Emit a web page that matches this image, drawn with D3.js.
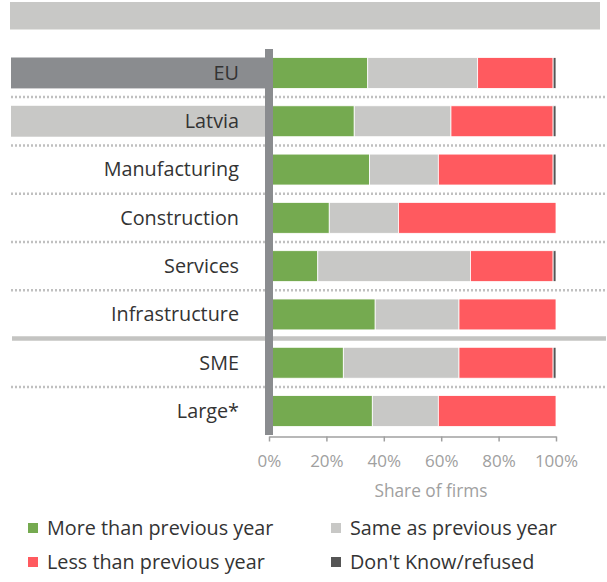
<!DOCTYPE html>
<html>
<head>
<meta charset="utf-8">
<script src="https://cdn.jsdelivr.net/npm/d3@7"></script>
<style>
  html, body { margin: 0; padding: 0; background: #fff; }
  svg { display: block; font-family: "Open Sans", "Noto Sans", sans-serif; }
</style>
</head>
<body>
<svg id="chart" width="607" height="582"></svg>
<script>
const categories = ["EU", "Latvia", "Manufacturing", "Construction", "Services", "Infrastructure", "SME", "Large*"];
const more = [34.4, 29.7, 35.0, 21.0, 17.0, 37.0, 25.9, 36.0];
const same = [38.3, 33.7, 24.0, 24.1, 53.2, 29.2, 40.3, 23.0];
const less = [26.3, 35.6, 40.0, 54.9, 28.8, 33.8, 32.8, 41.0];
const dontKnow = [1.0, 1.0, 1.0, 0.0, 1.0, 0.0, 1.0, 0.0];
const seriesNames = ["More than previous year", "Same as previous year", "Less than previous year", "Don't Know/refused"];
const seriesColors = ["#75aa50", "#c8c8c6", "#ff5a5f", "#555555"];
const xTicks = [0, 20, 40, 60, 80, 100];
const highlight = { "EU": "#8a8c8f", "Latvia": "#c8c8c6" };
const solidBreakAfter = "Infrastructure";

const svg = d3.select("#chart");

const rows = categories.map((c, i) => ({ cat: c, vals: [more[i], same[i], less[i], dontKnow[i]] }));
const keys = [0, 1, 2, 3];
const stacked = d3.stack().keys(keys).value((d, k) => d.vals[k])(rows);

const x = d3.scaleLinear().domain([0, 100]).range([269, 556]);
const y = d3.scaleBand().domain(categories).range([49, 435]).paddingInner(0.36).paddingOuter(0.176);

// top banner
svg.append("rect").attr("x", 10).attr("y", 2).attr("width", 590).attr("height", 27).attr("fill", "#c8c8c6");
svg.append("line").attr("x1", 10).attr("x2", 600).attr("y1", 29.5).attr("y2", 29.5).attr("stroke", "#e4e4e2").attr("stroke-width", 1);

// highlight label backgrounds
categories.forEach(c => {
  if (highlight[c]) {
    svg.append("rect").attr("x", 11).attr("y", y(c)).attr("width", 268 - 11).attr("height", y.bandwidth())
      .attr("fill", highlight[c]);
  }
});

// separators
for (let i = 0; i < categories.length - 1; i++) {
  const yy = (y(categories[i]) + y.bandwidth() + y(categories[i + 1])) / 2;
  if (categories[i] === solidBreakAfter) {
    svg.append("line").attr("x1", 12).attr("x2", 606).attr("y1", yy).attr("y2", yy)
      .attr("stroke", "#c4c4c2").attr("stroke-width", 4.5);
  } else {
    svg.append("line").attr("x1", 11).attr("x2", 607).attr("y1", yy).attr("y2", yy)
      .attr("stroke", "#c0c0c0").attr("stroke-width", 2.5).attr("stroke-dasharray", "2,2");
  }
}

// bars
svg.append("g").selectAll("g").data(stacked).join("g")
  .attr("fill", (d, i) => seriesColors[i])
  .selectAll("rect").data(d => d).join("rect")
  .attr("x", d => x(d[0]))
  .attr("y", d => y(d.data.cat))
  .attr("width", d => Math.max(0, x(d[1]) - x(d[0])))
  .attr("height", y.bandwidth())
  .attr("stroke", "#fff").attr("stroke-width", 0.8);

// category labels
svg.append("g").selectAll("text").data(categories).join("text")
  .attr("x", 239).attr("y", d => y(d) + y.bandwidth() / 2)
  .attr("dy", "0.35em").attr("text-anchor", "end")
  .attr("font-size", 19.8).attr("fill", "#333")
  .text(d => d);

// x axis
const xAxis = svg.append("g").attr("transform", "translate(0,436.5)")
  .call(d3.axisBottom(x).tickValues(xTicks).tickFormat(d => d + "%").tickSize(5).tickSizeOuter(0));
xAxis.select(".domain").attr("stroke", "#a0a0a0").attr("stroke-width", 1.5);
xAxis.selectAll(".tick line").attr("stroke", "#a0a0a0").attr("stroke-width", 1.5);
xAxis.selectAll(".tick text").attr("fill", "#a0a0a0").attr("font-size", 17)
  .attr("font-family", "'Open Sans', sans-serif").attr("y", 18);

// vertical axis bar
svg.append("rect").attr("x", x(0) - 4).attr("y", 49).attr("width", 8).attr("height", 386).attr("fill", "#8a8c8f");

// axis title
svg.append("text").attr("x", 431).attr("y", 497).attr("text-anchor", "middle")
  .attr("font-size", 17.3).attr("fill", "#a0a0a0").text("Share of firms");

// legend
const legendPos = [[28, 528], [331, 528], [28, 562], [331, 562]];
const lg = svg.append("g").selectAll("g").data(seriesNames).join("g")
  .attr("transform", (d, i) => `translate(${legendPos[i][0]},${legendPos[i][1]})`);
lg.append("rect").attr("x", 0).attr("y", -5).attr("width", 10).attr("height", 10)
  .attr("fill", (d, i) => seriesColors[i]);
lg.append("text").attr("x", 19).attr("y", 0).attr("dy", "0.35em")
  .attr("font-size", 19.8).attr("fill", "#333").text(d => d);
</script>
</body>
</html>
